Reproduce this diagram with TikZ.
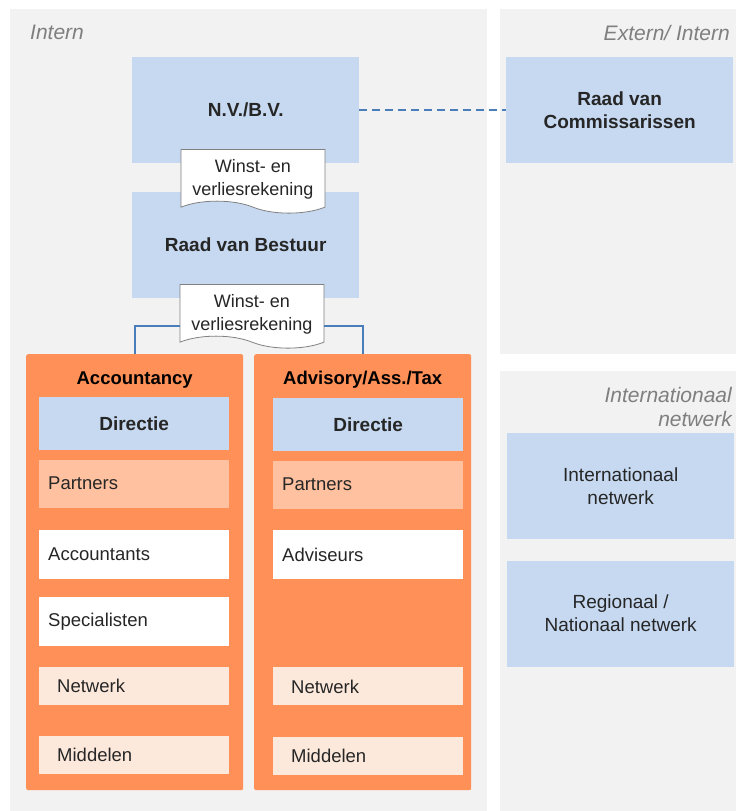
\documentclass[tikz,border=0pt]{standalone}
\usepackage{fontspec}
\setmainfont{Liberation Sans}
\usepackage{xcolor}
\definecolor{panel-grey}{HTML}{F2F2F2}
\definecolor{pale-blue}{HTML}{C6D9F0}
\definecolor{org-orange}{HTML}{FF9057}
\definecolor{pale-orange}{HTML}{FFC19F}
\definecolor{light-orange}{HTML}{FDE9DC}
\definecolor{line-blue}{HTML}{4A7EBB}
\definecolor{label-grey}{HTML}{7F7F7F}
\definecolor{ink}{HTML}{262626}
\usepackage{tikz}
\usetikzlibrary{positioning}
\usetikzlibrary{shapes.symbols}
\tikzset{panel/.style = {fill=panel-grey, anchor=north west, inner sep=0pt}}
\tikzset{zone/.style = {font=\fontsize{21}{24}\selectfont\itshape, text=label-grey, align=right, inner sep=0pt}}
\tikzset{board/.style = {fill=pale-blue, anchor=north west, minimum width=227pt, minimum height=106pt, align=center, text=ink, font=\fontsize{19}{23}\selectfont}}
\tikzset{column/.style = {fill=org-orange, rounded corners=2pt, anchor=north west, minimum width=217pt, minimum height=436pt}}
\tikzset{coltitle/.style = {font=\fontsize{18.5}{22}\selectfont\bfseries, text=black, inner sep=0pt}}
\tikzset{lead/.style = {fill=pale-blue, anchor=north west, minimum width=190pt, minimum height=53pt, font=\fontsize{19}{22}\selectfont\bfseries, text=ink}}
\tikzset{item/.style = {fill=white, anchor=north west, text width=172pt, inner xsep=9pt, minimum height=49pt, align=left, text=ink, font=\fontsize{18.5}{22}\selectfont}}
\tikzset{means/.style = {fill=light-orange, anchor=north west, text width=154pt, inner xsep=18pt, minimum height=38pt, align=left, text=ink, font=\fontsize{18.5}{22}\selectfont}}
\tikzset{doc/.style = {tape, tape bend top=none, tape bend bottom=out and in, tape bend height=12pt, draw=gray, fill=white, line width=.8pt, align=center, minimum width=144pt, minimum height=62pt, inner sep=2pt, text height=44pt, text=ink}}
\tikzset{link/.style = {draw=line-blue, line width=1.6pt}}

\begin{document}
\begin{tikzpicture}[x=1pt, y=1pt,
  font=\fontsize{18}{22.5}\selectfont
]
\useasboundingbox (0,0) rectangle (736,-811);

% grey zones
\node[panel, minimum width=477pt, minimum height=802pt] (intern) at (10,-9) {};
\node[panel, minimum width=236pt, minimum height=345pt] (extern) at (500,-9) {};
\node[panel, minimum width=236pt, minimum height=440pt] (global) at (500,-371) {};
\node[zone, anchor=west] (internlabel) at (30,-32) {Intern};
\node[zone, anchor=east] (externlabel) at (730,-33) {Extern/ Intern};
\node[zone, anchor=east] (globallabel) at (732,-407) {Internationaal\\netwerk};

\node[board, font=\fontsize{19}{23}\selectfont\bfseries] (nv) at (132,-57) {N.V./B.V.};
\node[board, font=\fontsize{19}{23}\selectfont\bfseries, below=28pt of nv] (rvb) {Raad van Bestuur};
\node[board, font=\fontsize{19}{23}\selectfont\bfseries] (rvc) at (506,-57) {Raad van\\Commissarissen};
\node[board] (intnet) at (507,-433) {Internationaal\\netwerk};
\node[board, below=21pt of intnet] (regnet) {Regionaal /\\Nationaal netwerk};

\node[doc, anchor=north] (doc1) at (253,-149) {Winst- en\\verliesrekening};
\node[doc, anchor=north] (doc2) at (252,-284) {Winst- en\\verliesrekening};

% accountancy
\node[column] (acc) at (26,-354) {};
\node[coltitle] (acctitle) at ([yshift=-26pt]acc.north) {Accountancy};
\node[lead] (accdir) at (39,-397) {Directie};
\node[item, fill=pale-orange, minimum height=48pt, below=9pt of accdir] (accpart) {Partners};
\node[item, below=22pt of accpart] (accacc) {Accountants};
\node[item, below=18pt of accacc] (accspec) {Specialisten};
\node[means, below=20pt of accspec] (accnet) {Netwerk};
\node[means, below=31pt of accnet] (accmid) {Middelen};

% advisory
\node[column] (adv) at (254,-354) {};
\node[coltitle] (advtitle) at ([yshift=-26pt]adv.north) {Advisory/Ass./Tax};
\node[lead] (advdir) at (273,-398) {Directie};
\node[item, fill=pale-orange, minimum height=48pt, below=9pt of advdir] (advpart) {Partners};
\node[item, below=21pt of advpart] (advadv) {Adviseurs};
\node[means, below=88pt of advadv] (advnet) {Netwerk};
\node[means, below=31pt of advnet] (advmid) {Middelen};

\draw[link, dash pattern=on 8pt off 5pt] (nv) -- (rvc);
\draw[link] ([yshift=-16pt]doc2.west) -| (acc.north);
\draw[link] ([yshift=-16pt]doc2.east) -| (adv.north);

\end{tikzpicture}
\end{document}
